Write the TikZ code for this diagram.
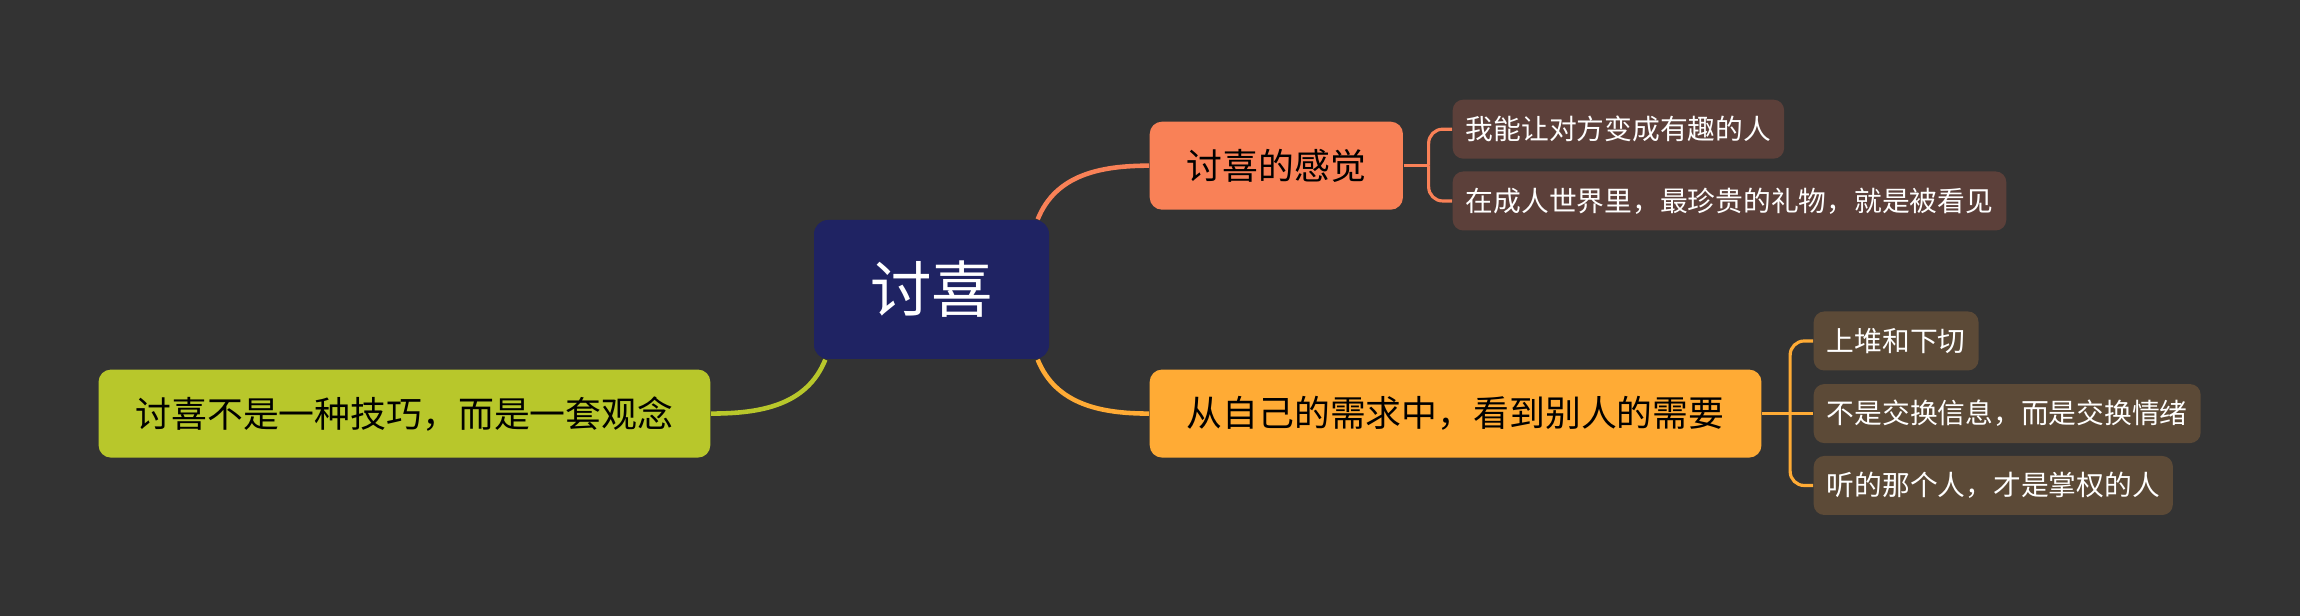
\documentclass[tikz,border=0pt]{standalone}
\usepackage{fontspec}
\setmainfont{Noto Sans CJK SC}
\usepackage{tikz}
\usetikzlibrary{calc,shapes}
\definecolor{bg}{HTML}{333333}
\definecolor{navy}{HTML}{1F2363}
\definecolor{coral}{HTML}{F98157}
\definecolor{amber}{HTML}{FFAB35}
\definecolor{lime}{HTML}{B8C72B}
\definecolor{brownA}{HTML}{5C403A}
\definecolor{brownB}{HTML}{5C4A37}
\tikzstyle{br}=[rectangle,rounded corners=3.5pt,inner xsep=0.37cm,minimum height=0.88cm,font=\fontsize{10.2pt}{12pt}\selectfont,text=black]
\tikzstyle{lf}=[rectangle,rounded corners=3pt,inner xsep=0.13cm,minimum height=0.59cm,font=\fontsize{7.9pt}{9.5pt}\selectfont,text=white,anchor=west]

\begin{document}
\begin{tikzpicture}
%\draw[help lines] (0,0) grid (23,6);
\fill[bg] (0,0) rectangle (23,6.16);
\useasboundingbox (0,0) rectangle (23,6.16);
\tikzstyle{ln}=[line width=1.3pt]
\tikzstyle{bk}=[line width=0.9pt,rounded corners=4pt]

\node[rectangle,rounded corners=4pt,fill=navy,text=white,minimum width=2.35cm,minimum height=1.39cm,font=\fontsize{17.5pt}{20pt}\selectfont] (c) at (9.315,3.265) {讨喜};

\node[br,fill=coral,anchor=west] (t) at (11.49,4.503) {讨喜的感觉};
\node[br,fill=amber,anchor=west] (b) at (11.49,2.024) {从自己的需求中，看到别人的需要};
\node[br,fill=lime,anchor=east] (l) at (7.11,2.024) {讨喜不是一种技巧，而是一套观念};

\node[lf,fill=brownA] (t1) at (14.52,4.868) {我能让对方变成有趣的人};
\node[lf,fill=brownA] (t2) at (14.52,4.15) {在成人世界里，最珍贵的礼物，就是被看见};

\node[lf,fill=brownB] (b1) at (18.13,2.75) {上堆和下切};
\node[lf,fill=brownB] (b2) at (18.13,2.024) {不是交换信息，而是交换情绪};
\node[lf,fill=brownB] (b3) at (18.13,1.305) {听的那个人，才是掌权的人};

\draw[ln,coral] ($(c.north east)+(-0.12,0)$) to[out=68,in=180] (t.west);
\draw[ln,amber] ($(c.south east)+(-0.12,0)$) to[out=-68,in=180] (b.west);
\draw[ln,lime] ($(c.south west)+(0.12,0)$) to[out=-112,in=0] (l.east);

\draw[bk,coral] (t.east) -- ++(0.25,0) coordinate (tj);
\draw[bk,coral] (tj) |- (t1.west);
\draw[bk,coral] (tj) |- (t2.west);

\draw[bk,amber] (b.east) -- ++(0.28,0) coordinate (bj);
\draw[bk,amber] (bj) |- (b1.west);
\draw[bk,amber] (bj) -- (b2.west);
\draw[bk,amber] (bj) |- (b3.west);
\end{tikzpicture}
\end{document}
